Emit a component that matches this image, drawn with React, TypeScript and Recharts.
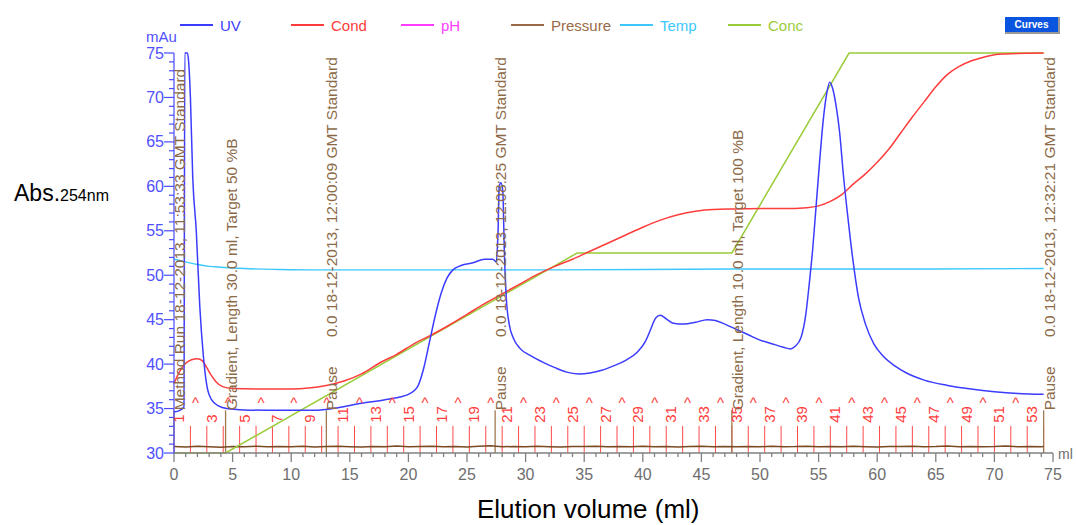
import React from 'react';
import { ComposedChart, Line, XAxis, YAxis, ReferenceLine, ReferenceDot } from 'recharts';

const FONT = '"Liberation Sans", Arial, sans-serif';

// UV absorbance (mAu) against elution volume (ml)
const uvVolume = [0, 0.5, 0.85, 0.92, 1.15, 1.25, 1.4, 1.6, 1.9, 2.2, 2.5, 2.8, 3.2, 3.8, 4.5, 6, 9, 12, 14, 16, 18, 20, 20.8, 21.3, 21.8, 22.3, 22.8, 23.3, 23.8, 24.5, 25.5, 26.5, 27.2, 27.5, 27.65, 27.75, 27.9, 28.05, 28.2, 28.35, 28.6, 29, 29.5, 30.5, 31.5, 32.5, 33.5, 34.5, 35.5, 36.5, 37.5, 38.5, 39.5, 40.2, 40.7, 41.1, 41.5, 42, 42.6, 43.5, 44.5, 45.5, 46.2, 47, 48, 49, 50, 51, 52, 52.6, 53, 53.5, 53.9, 54.2, 54.5, 54.8, 55.1, 55.4, 55.7, 55.95, 56.2, 56.5, 56.8, 57.1, 57.5, 57.9, 58.4, 59, 59.7, 60.5, 61.5, 62.5, 64, 66, 68, 70, 72, 74.2];
const uvAbs = [34.6, 34.8, 35.2, 75, 75, 74, 70, 61, 55, 46.5, 41, 37.6, 36, 35.3, 35, 34.85, 34.8, 34.8, 35.1, 35.6, 36, 36.6, 37.5, 39.5, 42.5, 45.5, 48, 49.7, 50.6, 51.1, 51.4, 51.8, 51.8, 51.5, 55, 60, 60.4, 59.5, 52, 47.5, 44.5, 42.8, 41.8, 40.9, 40.2, 39.6, 39.1, 38.9, 39, 39.3, 39.8, 40.4, 41.3, 42.5, 44, 45.2, 45.5, 45.1, 44.6, 44.5, 44.7, 45, 44.9, 44.5, 43.9, 43.3, 42.7, 42.3, 41.9, 41.7, 42, 43, 45.5, 49, 53, 58, 63, 67.5, 70.5, 71.7, 71, 69, 66, 61.5, 56.5, 52, 47.5, 44.5, 42.3, 40.9, 39.8, 39, 38.2, 37.6, 37.2, 36.9, 36.7, 36.6];

// conductivity, shown on the same scale
const condVolume = [0, 0.5, 1, 1.5, 2, 2.4, 2.8, 3.2, 3.6, 4.1, 5, 7, 10, 11.5, 13, 14.5, 16, 17.5, 19, 20.5, 22, 23.5, 25, 26.5, 28, 29.5, 31, 32.5, 34, 35.5, 37, 38.5, 40, 41.5, 43, 44.5, 46, 48, 50, 52, 54, 55, 56, 57, 58, 59, 60, 61, 62, 63, 64, 65, 66, 67, 68, 69, 70, 71, 72, 73, 74.2];
const condValue = [37.8, 39.2, 40.1, 40.5, 40.6, 40.4, 39.6, 38.7, 38, 37.5, 37.25, 37.2, 37.2, 37.3, 37.6, 38.1, 38.9, 40.1, 41.1, 42.3, 43.3, 44.4, 45.6, 46.8, 47.9, 49, 50.1, 51, 51.8, 52.7, 53.6, 54.5, 55.4, 56.2, 56.8, 57.2, 57.4, 57.45, 57.5, 57.5, 57.6, 57.8, 58.3, 59.1, 60.3, 61.4, 62.7, 64.2, 66, 67.8, 69.5, 71.2, 72.6, 73.5, 74.1, 74.5, 74.8, 74.9, 74.95, 74.98, 75];

const tempVolume = [0, 1, 2, 3, 4, 6, 9, 12, 20, 30, 40, 50, 60, 74.2];
const tempValue = [51.8, 51.5, 51.2, 51.0, 50.9, 50.75, 50.65, 50.6, 50.6, 50.6, 50.65, 50.7, 50.7, 50.75];

const concVolume = [0, 4.4, 34.4, 47.6, 57.6, 74.2];
const concValue = [30, 30, 52.5, 52.5, 75, 75];

const pressureVolume = [0, 1, 2, 3, 4, 5, 6, 7, 8, 9, 10, 11, 12, 13, 14, 15, 16, 17, 18, 19, 20, 21, 22, 23, 24, 25, 26, 27, 28, 29, 30, 31, 32, 33, 34, 35, 36, 37, 38, 39, 40, 41, 42, 43, 44, 45, 46, 47, 48, 49, 50, 51, 52, 53, 54, 55, 56, 57, 58, 59, 60, 61, 62, 63, 64, 65, 66, 67, 68, 69, 70, 71, 72, 73, 74, 74.2];
const pressureValue = [30.72, 30.68, 30.75, 30.7, 30.66, 30.74, 30.71, 30.77, 30.69, 30.73, 30.7, 30.76, 30.68, 30.72, 30.75, 30.7, 30.67, 30.74, 30.71, 30.78, 30.69, 30.73, 30.76, 30.7, 30.72, 30.68, 30.75, 30.82, 30.7, 30.73, 30.69, 30.75, 30.71, 30.68, 30.74, 30.72, 30.77, 30.7, 30.73, 30.69, 30.75, 30.71, 30.74, 30.68, 30.72, 30.76, 30.7, 30.73, 30.69, 30.74, 30.71, 30.75, 30.7, 30.72, 30.77, 30.69, 30.73, 30.7, 30.75, 30.71, 30.68, 30.74, 30.72, 30.76, 30.7, 30.73, 30.79, 30.71, 30.74, 30.69, 30.72, 30.8, 30.7, 30.73, 30.71, 30.72];

// fraction n starts at fractionStart[n - 1]; last fraction ends at 74.2
const fractionStart = [0, 1.4, 2.8, 4.2, 5.6, 7.0, 8.4, 9.8, 11.2, 12.6, 14.0, 15.4, 16.8, 18.2, 19.6, 21.0, 22.4, 23.8, 25.2, 26.6, 28.0, 29.4, 30.8, 32.2, 33.6, 35.0, 36.4, 37.8, 39.2, 40.6, 42.0, 43.4, 44.8, 46.2, 47.6, 49.0, 50.4, 51.8, 53.2, 54.6, 56.0, 57.4, 58.8, 60.2, 61.6, 63.0, 64.4, 65.8, 67.2, 68.6, 70.0, 71.4, 72.8, 74.2];

const eventVolume = [0, 4.4, 13.0, 27.4, 47.6, 74.2];
const eventLabel = ['Method Run 18-12-2013, 11:53:33 GMT Standard', 'Gradient, Length 30.0 ml, Target 50 %B', 'Pause', 'Pause', 'Gradient, Length 10.0 ml, Target 100 %B', 'Pause'];
const eventStamp = ['', '', '0.0 18-12-2013, 12:00:09 GMT Standard', '0.0 18-12-2013, 12:08:25 GMT Standard', '', '0.0 18-12-2013, 12:32:21 GMT Standard'];

const xTicks = Array.from({ length: 76 }, (_, i) => i);
const yTicks = Array.from({ length: 46 }, (_, i) => 30 + i);

const legendNames = ['UV', 'Cond', 'pH', 'Pressure', 'Temp', 'Conc'];
const legendColors = ['#3c3cff', '#ff3c3c', '#ff3cff', '#9a6a48', '#3cc8ff', '#9acc3a'];
const legendLeft = [180, 291, 401, 511, 620, 728];

const BROWN = '#8c6a48';

const pts = (xs: number[], ys: number[]) => xs.map((x, i) => ({ x, y: ys[i] }));

const XTick = (props: any) => {
  const { x, y, payload } = props;
  const v = payload.value;
  const major = v % 5 === 0;
  return (
    <g>
      <line x1={x} x2={x} y1={y} y2={y + (major ? 9 : 4)} stroke="#808080" strokeWidth={1.3} />
      {major && (
        <text x={x} y={y + 27} textAnchor="middle" fill="#6e6e6e" fontSize={16} fontFamily={FONT}>{v}</text>
      )}
    </g>
  );
};

const YTick = (props: any) => {
  const { x, y, payload } = props;
  const v = payload.value;
  const major = v % 5 === 0;
  return (
    <g>
      <line x1={x - (major ? 10 : 5)} x2={x} y1={y} y2={y} stroke="#4a4aff" strokeWidth={1.2} />
      {major && (
        <text x={x - 10} y={y} dy="0.35em" textAnchor="end" fill="#5050ff" fontSize={16} fontFamily={FONT}>{v}</text>
      )}
    </g>
  );
};

const rotText = (label: string, color: string, size: number, dx: number) => (p: any) => (
  <text
    x={p.cx + dx}
    y={p.cy}
    transform={`rotate(-90 ${p.cx + dx} ${p.cy})`}
    fill={color}
    fontSize={size}
    fontFamily={FONT}
  >
    {label}
  </text>
);

const caret = (p: any) => (
  <text x={p.cx + 5} y={p.cy} textAnchor="middle" fill="#ff3c3c" fontSize={15} fontFamily={FONT}>^</text>
);

export default function App() {
  return (
    <div style={{ position: 'absolute', left: 0, top: 0, width: 1076, height: 525, background: '#fff', fontFamily: FONT, overflow: 'hidden' }}>
      <ComposedChart width={1076} height={525} margin={{ top: 53, right: 23, bottom: 0, left: 0 }}>
        <XAxis
          type="number"
          dataKey="x"
          domain={[0, 75]}
          ticks={xTicks}
          interval={0}
          height={72}
          tickSize={0}
          tickMargin={0}
          tickLine={false}
          axisLine={{ stroke: '#808080', strokeWidth: 1.5 }}
          tick={<XTick />}
        />
        <YAxis
          type="number"
          dataKey="y"
          domain={[30, 75]}
          ticks={yTicks}
          interval={0}
          width={174}
          tickSize={0}
          tickMargin={0}
          tickLine={false}
          axisLine={{ stroke: '#4a4aff', strokeWidth: 1.2 }}
          tick={<YTick />}
        />

        {fractionStart.slice(1).map((v) => (
          <ReferenceLine key={`f${v}`} segment={[{ x: v, y: 30 }, { x: v, y: 33.05 }]} stroke="#ff4a4a" strokeWidth={1} />
        ))}
        {fractionStart.slice(0, 53).map((v, i) =>
          i % 2 === 0 ? (
            <ReferenceDot key={`l${i}`} x={v} y={33.4} r={1} fill="none" stroke="none" ifOverflow="visible"
              shape={rotText(String(i + 1), '#ff3c3c', 15, 10)} />
          ) : (
            <ReferenceDot key={`c${i}`} x={v} y={35.1} r={1} fill="none" stroke="none" ifOverflow="visible" shape={caret} />
          )
        )}

        {eventVolume.map((v, i) => (
          <ReferenceLine key={`e${i}`} segment={[{ x: v, y: 30 }, { x: v, y: 34.8 }]} stroke="#a07850" strokeWidth={1.3} />
        ))}
        {eventVolume.map((v, i) => (
          <ReferenceDot key={`et${i}`} x={v} y={34.8} r={1} fill="none" stroke="none" ifOverflow="visible"
            shape={rotText(eventLabel[i], BROWN, 15.5, 11)} />
        ))}
        {eventVolume.map((v, i) =>
          eventStamp[i] ? (
            <ReferenceDot key={`es${i}`} x={v} y={43.05} r={1} fill="none" stroke="none" ifOverflow="visible"
              shape={rotText(eventStamp[i], BROWN, 15.5, 11)} />
          ) : null
        )}

        <Line data={pts(pressureVolume, pressureValue)} dataKey="y" type="linear" stroke="#7a4a22" strokeWidth={1.5} dot={false} isAnimationActive={false} />
        <Line data={pts(tempVolume, tempValue)} dataKey="y" type="monotone" stroke="#3cc8ff" strokeWidth={1.4} dot={false} isAnimationActive={false} />
        <Line data={pts(concVolume, concValue)} dataKey="y" type="linear" stroke="#9acc3a" strokeWidth={1.5} dot={false} isAnimationActive={false} />
        <Line data={pts(condVolume, condValue)} dataKey="y" type="monotone" stroke="#ff3c3c" strokeWidth={1.5} dot={false} isAnimationActive={false} />
        <Line data={pts(uvVolume, uvAbs)} dataKey="y" type="monotone" stroke="#3c3cff" strokeWidth={1.5} dot={false} isAnimationActive={false} />
      </ComposedChart>

      {legendNames.map((name, i) => (
        <div key={name} style={{ position: 'absolute', left: legendLeft[i], top: 16, height: 18, display: 'flex', alignItems: 'center', whiteSpace: 'nowrap' }}>
          <div style={{ width: 33, height: 1.5, background: legendColors[i], marginRight: 7 }} />
          <span style={{ color: legendColors[i], fontSize: 15 }}>{name}</span>
        </div>
      ))}

      <div style={{ position: 'absolute', left: 1005, top: 17, width: 53, height: 15, background: '#0a55e0', borderRight: '2px solid #999', borderBottom: '2px solid #999', color: '#fff', fontSize: 10, fontWeight: 'bold', textAlign: 'center', lineHeight: '15px' }}>
        Curves
      </div>

      <div style={{ position: 'absolute', left: 146, top: 28, color: '#5050ff', fontSize: 15 }}>mAu</div>
      <div style={{ position: 'absolute', left: 1058, top: 446, color: '#6e6e6e', fontSize: 14 }}>ml</div>

      <div style={{ position: 'absolute', left: 14, top: 180, color: '#000', fontSize: 23, whiteSpace: 'nowrap' }}>
        Abs.<span style={{ fontSize: 16 }}>254nm</span>
      </div>
      <div style={{ position: 'absolute', left: 477, top: 494, color: '#000', fontSize: 26, whiteSpace: 'nowrap' }}>
        Elution volume (ml)
      </div>
    </div>
  );
}
